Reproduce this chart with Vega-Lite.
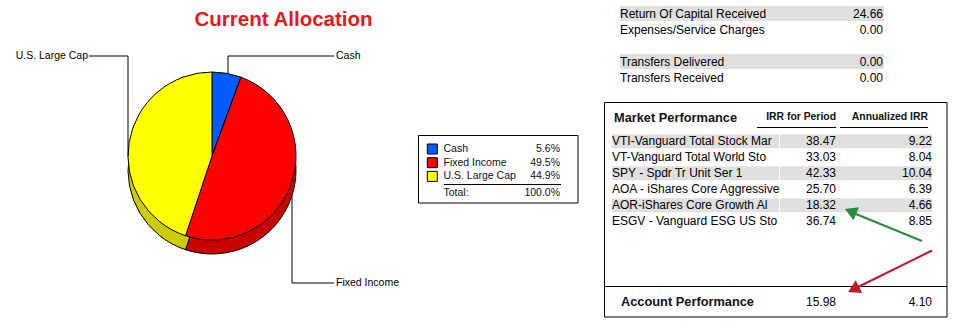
{
  "$schema": "https://vega.github.io/schema/vega-lite/v6.json",
  "width": 964,
  "height": 334,
  "autosize": {"type": "fit", "contains": "padding"},
  "padding": 0,
  "background": "white",
  "config": {
    "view": {"stroke": null},
    "axis": {"disable": true},
    "legend": {"disable": true},
    "text": {"font": "Liberation Sans", "color": "#000000"}
  },
  "datasets": {
    "alloc": [
      {"category": "Cash", "pct": 0.056, "row": 1},
      {"category": "Fixed Income", "pct": 0.495, "row": 2},
      {"category": "U.S. Large Cap", "pct": 0.449, "row": 3}
    ],
    "flows": [
      {"item": "Return Of Capital Received", "value": 24.66, "row": 1},
      {"item": "Expenses/Service Charges", "value": 0, "row": 2},
      {"item": "Transfers Delivered", "value": 0, "row": 4},
      {"item": "Transfers Received", "value": 0, "row": 5}
    ],
    "perf": [
      {"fund": "VTI-Vanguard Total Stock Mar", "irr": 38.47, "ann": 9.22, "row": 1},
      {"fund": "VT-Vanguard Total World Sto", "irr": 33.03, "ann": 8.04, "row": 2},
      {"fund": "SPY - Spdr Tr Unit Ser 1", "irr": 42.33, "ann": 10.04, "row": 3},
      {"fund": "AOA - iShares Core Aggressive", "irr": 25.7, "ann": 6.39, "row": 4},
      {"fund": "AOR-iShares Core Growth Al", "irr": 18.32, "ann": 4.66, "row": 5},
      {"fund": "ESGV - Vanguard ESG US Sto", "irr": 36.74, "ann": 8.85, "row": 6}
    ],
    "account": [
      {"label": "Account Performance", "irr": 15.98, "ann": 4.1}
    ]
  },
  "layer": [
    {
      "data": {"values": [{}]},
      "layer": [
        {
          "mark": {"type": "text", "text": "Current Allocation", "fontWeight": "bold", "fontSize": 20.5, "color": "#E31A1C", "align": "center", "baseline": "alphabetic"},
          "encoding": {
            "x": {"datum": 283.5, "type": "quantitative", "scale": {"domain": [0, 964], "range": [0, 964], "nice": false, "zero": false}},
            "y": {"datum": 26, "type": "quantitative", "scale": {"domain": [0, 334], "range": [0, 334], "nice": false, "zero": false}}
          }
        },
        {
          "data": {"name": "alloc"},
          "mark": {"type": "arc", "radius": 84, "stroke": "black", "strokeWidth": 1},
          "encoding": {
            "theta": {"field": "pct", "type": "quantitative", "stack": true},
            "order": {"field": "row", "type": "quantitative"},
            "fill": {"field": "category", "type": "nominal", "scale": {"domain": ["Cash", "Fixed Income", "U.S. Large Cap"], "range": ["#0040C0", "#C80000", "#CCCC00"]}, "legend": null},
            "x": {"datum": 212, "type": "quantitative"},
            "y": {"datum": 170, "type": "quantitative"}
          }
        },
        {
          "data": {"name": "alloc"},
          "mark": {"type": "arc", "radius": 84, "stroke": "black", "strokeWidth": 1},
          "encoding": {
            "theta": {"field": "pct", "type": "quantitative", "stack": true},
            "order": {"field": "row", "type": "quantitative"},
            "color": {"field": "category", "type": "nominal", "scale": {"domain": ["Cash", "Fixed Income", "U.S. Large Cap"], "range": ["#005CFF", "#FF0000", "#FFFF00"]}, "legend": null},
            "x": {"datum": 212, "type": "quantitative"},
            "y": {"datum": 156, "type": "quantitative"}
          }
        },
        {
          "mark": {"type": "rule", "color": "black", "strokeWidth": 1},
          "encoding": {"x": {"datum": 89, "type": "quantitative"}, "x2": {"datum": 128}, "y": {"datum": 56, "type": "quantitative"}, "y2": {"datum": 56}}
        },
        {
          "mark": {"type": "rule", "color": "black", "strokeWidth": 1},
          "encoding": {"x": {"datum": 128, "type": "quantitative"}, "x2": {"datum": 128}, "y": {"datum": 56, "type": "quantitative"}, "y2": {"datum": 156}}
        },
        {
          "mark": {"type": "rule", "color": "black", "strokeWidth": 1},
          "encoding": {"x": {"datum": 228, "type": "quantitative"}, "x2": {"datum": 334}, "y": {"datum": 56, "type": "quantitative"}, "y2": {"datum": 56}}
        },
        {
          "mark": {"type": "rule", "color": "black", "strokeWidth": 1},
          "encoding": {"x": {"datum": 228, "type": "quantitative"}, "x2": {"datum": 228}, "y": {"datum": 56, "type": "quantitative"}, "y2": {"datum": 73.5}}
        },
        {
          "mark": {"type": "rule", "color": "black", "strokeWidth": 1},
          "encoding": {"x": {"datum": 292, "type": "quantitative"}, "x2": {"datum": 292}, "y": {"datum": 195.6, "type": "quantitative"}, "y2": {"datum": 283}}
        },
        {
          "mark": {"type": "rule", "color": "black", "strokeWidth": 1},
          "encoding": {"x": {"datum": 292, "type": "quantitative"}, "x2": {"datum": 334}, "y": {"datum": 283, "type": "quantitative"}, "y2": {"datum": 283}}
        },
        {
          "mark": {"type": "text", "text": "U.S. Large Cap", "fontSize": 10.5, "align": "right", "baseline": "middle"},
          "encoding": {"x": {"datum": 88, "type": "quantitative"}, "y": {"datum": 56, "type": "quantitative"}}
        },
        {
          "mark": {"type": "text", "text": "Cash", "fontSize": 10.5, "align": "left", "baseline": "middle"},
          "encoding": {"x": {"datum": 336, "type": "quantitative"}, "y": {"datum": 56, "type": "quantitative"}}
        },
        {
          "mark": {"type": "text", "text": "Fixed Income", "fontSize": 10.5, "align": "left", "baseline": "middle"},
          "encoding": {"x": {"datum": 336, "type": "quantitative"}, "y": {"datum": 283, "type": "quantitative"}}
        },
        {
          "mark": {"type": "rect", "fillOpacity": 0, "stroke": "black", "strokeWidth": 1},
          "encoding": {"x": {"datum": 418.5, "type": "quantitative"}, "x2": {"datum": 578}, "y": {"datum": 135.5, "type": "quantitative"}, "y2": {"datum": 203}}
        },
        {
          "mark": {"type": "rule", "color": "black", "strokeWidth": 1},
          "encoding": {"x": {"datum": 444, "type": "quantitative"}, "x2": {"datum": 561}, "y": {"datum": 184.5, "type": "quantitative"}, "y2": {"datum": 184.5}}
        },
        {
          "mark": {"type": "text", "text": "Total:", "fontSize": 10.5, "align": "left", "baseline": "middle", "color": "#111111"},
          "encoding": {"x": {"datum": 443.5, "type": "quantitative"}, "y": {"datum": 192.5, "type": "quantitative"}}
        },
        {
          "data": {"name": "alloc"},
          "transform": [{"aggregate": [{"op": "sum", "field": "pct", "as": "total"}]}],
          "mark": {"type": "text", "fontSize": 10.5, "align": "right", "baseline": "middle", "color": "#111111"},
          "encoding": {
            "text": {"field": "total", "type": "quantitative", "format": ".1%"},
            "x": {"datum": 560, "type": "quantitative"},
            "y": {"datum": 192.5, "type": "quantitative"}
          }
        },
        {
          "mark": {"type": "rect", "fillOpacity": 0, "stroke": "black", "strokeWidth": 1},
          "encoding": {"x": {"datum": 604.5, "type": "quantitative"}, "x2": {"datum": 947}, "y": {"datum": 102.5, "type": "quantitative"}, "y2": {"datum": 317}}
        },
        {
          "mark": {"type": "rule", "color": "black", "strokeWidth": 1},
          "encoding": {"x": {"datum": 604.5, "type": "quantitative"}, "x2": {"datum": 947}, "y": {"datum": 286.5, "type": "quantitative"}, "y2": {"datum": 286.5}}
        },
        {
          "mark": {"type": "text", "text": "Market Performance", "fontSize": 12.8, "fontWeight": "bold", "align": "left", "baseline": "middle", "color": "#111111"},
          "encoding": {"x": {"datum": 614, "type": "quantitative"}, "y": {"datum": 118, "type": "quantitative"}}
        },
        {
          "mark": {"type": "text", "text": "IRR for Period", "fontSize": 10.4, "fontWeight": "bold", "align": "right", "baseline": "middle", "color": "#111111"},
          "encoding": {"x": {"datum": 836, "type": "quantitative"}, "y": {"datum": 117, "type": "quantitative"}}
        },
        {
          "mark": {"type": "text", "text": "Annualized IRR", "fontSize": 10.4, "fontWeight": "bold", "align": "right", "baseline": "middle", "color": "#111111"},
          "encoding": {"x": {"datum": 928, "type": "quantitative"}, "y": {"datum": 117, "type": "quantitative"}}
        },
        {
          "mark": {"type": "rule", "color": "black", "strokeWidth": 1},
          "encoding": {"x": {"datum": 757, "type": "quantitative"}, "x2": {"datum": 836}, "y": {"datum": 127.5, "type": "quantitative"}, "y2": {"datum": 127.5}}
        },
        {
          "mark": {"type": "rule", "color": "black", "strokeWidth": 1},
          "encoding": {"x": {"datum": 840, "type": "quantitative"}, "x2": {"datum": 928}, "y": {"datum": 127.5, "type": "quantitative"}, "y2": {"datum": 127.5}}
        },
        {
          "data": {"name": "account"},
          "mark": {"type": "text", "fontSize": 12.8, "fontWeight": "bold", "align": "left", "baseline": "middle", "color": "#111111"},
          "encoding": {"text": {"field": "label"}, "x": {"datum": 621, "type": "quantitative"}, "y": {"datum": 301.5, "type": "quantitative"}}
        },
        {
          "data": {"name": "account"},
          "mark": {"type": "text", "fontSize": 12, "align": "right", "baseline": "middle"},
          "encoding": {"text": {"field": "irr", "type": "quantitative", "format": ".2f"}, "x": {"datum": 836, "type": "quantitative"}, "y": {"datum": 301.5, "type": "quantitative"}}
        },
        {
          "data": {"name": "account"},
          "mark": {"type": "text", "fontSize": 12, "align": "right", "baseline": "middle"},
          "encoding": {"text": {"field": "ann", "type": "quantitative", "format": ".2f"}, "x": {"datum": 932, "type": "quantitative"}, "y": {"datum": 301.5, "type": "quantitative"}}
        }
      ]
    },
    {
      "data": {"name": "alloc"},
      "layer": [
        {
          "mark": {"type": "square", "size": 100, "filled": true, "opacity": 1, "stroke": "black", "strokeWidth": 1},
          "encoding": {
            "x": {"datum": 432.3, "type": "quantitative", "scale": {"domain": [0, 964], "range": [0, 964], "nice": false, "zero": false}},
            "y": {"field": "row", "type": "quantitative", "scale": {"domain": [1, 3], "range": [149, 176.4], "nice": false, "zero": false}},
            "color": {"field": "category", "type": "nominal", "scale": {"domain": ["Cash", "Fixed Income", "U.S. Large Cap"], "range": ["#005CFF", "#FF0000", "#FFFF00"]}, "legend": null}
          }
        },
        {
          "mark": {"type": "text", "fontSize": 10.5, "align": "left", "baseline": "middle", "color": "#111111"},
          "encoding": {
            "text": {"field": "category"},
            "x": {"datum": 443.5, "type": "quantitative"},
            "y": {"field": "row", "type": "quantitative"}
          }
        },
        {
          "mark": {"type": "text", "fontSize": 10.5, "align": "right", "baseline": "middle", "color": "#111111"},
          "encoding": {
            "text": {"field": "pct", "type": "quantitative", "format": ".1%"},
            "x": {"datum": 560, "type": "quantitative"},
            "y": {"field": "row", "type": "quantitative"}
          }
        }
      ]
    },
    {
      "data": {"name": "flows"},
      "layer": [
        {
          "transform": [{"filter": "datum.row % 3 == 1"}],
          "mark": {"type": "tick", "orient": "horizontal", "size": 264, "thickness": 15, "color": "#E0E0E0", "opacity": 1},
          "encoding": {
            "x": {"datum": 752, "type": "quantitative", "scale": {"domain": [0, 964], "range": [0, 964], "nice": false, "zero": false}},
            "y": {"field": "row", "type": "quantitative", "scale": {"domain": [1, 5], "range": [13.5, 77.5], "nice": false, "zero": false}}
          }
        },
        {
          "mark": {"type": "text", "fontSize": 12, "align": "left", "baseline": "middle"},
          "encoding": {
            "text": {"field": "item"},
            "x": {"datum": 620, "type": "quantitative"},
            "y": {"field": "row", "type": "quantitative"}
          }
        },
        {
          "mark": {"type": "text", "fontSize": 12, "align": "right", "baseline": "middle"},
          "encoding": {
            "text": {"field": "value", "type": "quantitative", "format": ".2f"},
            "x": {"datum": 883, "type": "quantitative"},
            "y": {"field": "row", "type": "quantitative"}
          }
        }
      ]
    },
    {
      "data": {"name": "perf"},
      "layer": [
        {
          "transform": [{"filter": "datum.row % 2 == 1"}],
          "mark": {"type": "tick", "orient": "horizontal", "size": 167, "thickness": 14, "color": "#E0E0E0", "opacity": 1},
          "encoding": {
            "x": {"datum": 695.5, "type": "quantitative", "scale": {"domain": [0, 964], "range": [0, 964], "nice": false, "zero": false}},
            "y": {"field": "row", "type": "quantitative", "scale": {"domain": [1, 6], "range": [141.3, 221.3], "nice": false, "zero": false}}
          }
        },
        {
          "transform": [{"filter": "datum.row % 2 == 1"}],
          "mark": {"type": "tick", "orient": "horizontal", "size": 152, "thickness": 14, "color": "#E0E0E0", "opacity": 1},
          "encoding": {
            "x": {"datum": 856, "type": "quantitative"},
            "y": {"field": "row", "type": "quantitative"}
          }
        },
        {
          "mark": {"type": "text", "fontSize": 12, "align": "left", "baseline": "middle"},
          "encoding": {
            "text": {"field": "fund"},
            "x": {"datum": 612, "type": "quantitative"},
            "y": {"field": "row", "type": "quantitative"}
          }
        },
        {
          "mark": {"type": "text", "fontSize": 12, "align": "right", "baseline": "middle"},
          "encoding": {
            "text": {"field": "irr", "type": "quantitative", "format": ".2f"},
            "x": {"datum": 836, "type": "quantitative"},
            "y": {"field": "row", "type": "quantitative"}
          }
        },
        {
          "mark": {"type": "text", "fontSize": 12, "align": "right", "baseline": "middle"},
          "encoding": {
            "text": {"field": "ann", "type": "quantitative", "format": ".2f"},
            "x": {"datum": 932, "type": "quantitative"},
            "y": {"field": "row", "type": "quantitative"}
          }
        }
      ]
    },
    {
      "data": {"values": [{}]},
      "layer": [
        {
          "mark": {"type": "rule", "color": "#2A8C3E", "strokeWidth": 2},
          "encoding": {
            "x": {"datum": 922, "type": "quantitative", "scale": {"domain": [0, 964], "range": [0, 964], "nice": false, "zero": false}},
            "x2": {"datum": 851},
            "y": {"datum": 241, "type": "quantitative", "scale": {"domain": [0, 334], "range": [0, 334], "nice": false, "zero": false}},
            "y2": {"datum": 212}
          }
        },
        {
          "mark": {"type": "rule", "color": "#C0182A", "strokeWidth": 2},
          "encoding": {"x": {"datum": 932, "type": "quantitative"}, "x2": {"datum": 854}, "y": {"datum": 250.5, "type": "quantitative"}, "y2": {"datum": 289}}
        },
        {
          "mark": {"type": "point", "shape": "triangle-up", "size": 200, "filled": true, "opacity": 1, "color": "#2A8C3E", "angle": 292.6},
          "encoding": {"x": {"datum": 850.6, "type": "quantitative"}, "y": {"datum": 211.3, "type": "quantitative"}}
        },
        {
          "mark": {"type": "point", "shape": "triangle-up", "size": 200, "filled": true, "opacity": 1, "color": "#C0182A", "angle": 243.4},
          "encoding": {"x": {"datum": 853.5, "type": "quantitative"}, "y": {"datum": 289.3, "type": "quantitative"}}
        }
      ]
    }
  ],
  "resolve": {"scale": {"x": "independent", "y": "independent"}}
}
